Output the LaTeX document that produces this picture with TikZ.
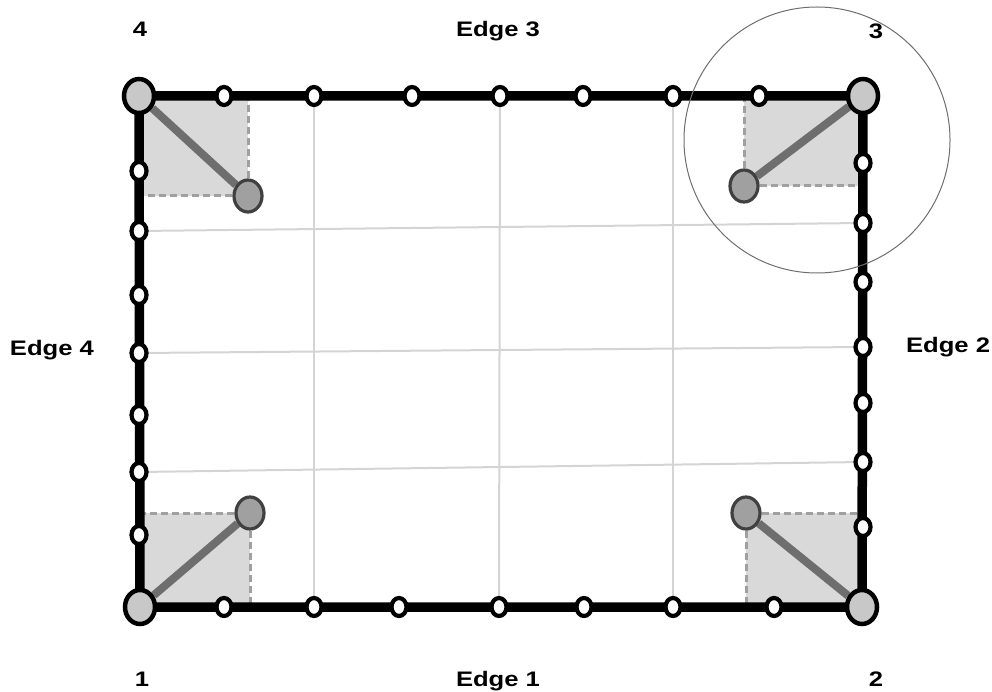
\documentclass[tikz,border=0pt]{standalone}
\usepackage{fontspec}
\newfontfamily\edgefont[FakeStretch=1.22]{Liberation Sans}
\usetikzlibrary{shapes.geometric,backgrounds}
\definecolor{cornerfill}{RGB}{200,200,200}
\definecolor{knobfill}{RGB}{160,160,160}
\definecolor{knobline}{RGB}{64,64,64}
\definecolor{armgray}{RGB}{110,110,110}
\definecolor{patchgray}{RGB}{217,217,217}
\definecolor{guidegray}{RGB}{160,160,160}
\definecolor{gridgray}{RGB}{212,212,212}
\definecolor{ringgray}{RGB}{110,110,110}

\tikzset{
  corner/.style={ellipse,draw=black,line width=4.5pt,fill=cornerfill,minimum width=30pt,minimum height=34pt,inner sep=0pt},
  bead/.style={ellipse,draw=black,line width=4.2pt,fill=white,minimum width=15pt,minimum height=18pt,inner sep=0pt},
  knob/.style={ellipse,draw=knobline,line width=3.2pt,fill=knobfill,minimum width=28pt,minimum height=32pt,inner sep=0pt},
  frame/.style={line width=9.5pt,line join=miter,black},
  gridline/.style={line width=2pt,gridgray},
  guide/.style={line width=3pt,guidegray,dash pattern=on 7pt off 4pt},
  arm/.style={line width=8pt,armgray},
  lbl/.style={font=\edgefont\bfseries\fontsize{21}{25}\selectfont,anchor=base,inner sep=0pt}
}

\begin{document}
\begin{tikzpicture}[x=1pt,y=-1pt]
  \useasboundingbox (0,0) rectangle (992,692);
  % corner joints
  \foreach \n/\x/\y in {1/140/607,2/862/607,3/863/96,4/139/96}
    \node[corner] (c\n) at (\x,\y) {};
  % beads along the edges
  \foreach \x [count=\i] in {224,314,399,499,584,673,774}
    \node[bead] (b1\i) at (\x,607) {};
  \foreach \y [count=\i] in {163,223,282,347,403,462,527}
    \node[bead] (b2\i) at (863,\y) {};
  \foreach \x [count=\i] in {224,314,412,500,583,673,759}
    \node[bead] (b3\i) at (\x,96) {};
  \foreach \y [count=\i] in {171,231,295,353,415,472,535}
    \node[bead] (b4\i) at (139,\y) {};
  % inner knobs
  \foreach \n/\x/\y in {1/250/513,2/746/513,3/744/186,4/248/196}
    \node[knob] (k\n) at (\x,\y) {};

  \begin{scope}[on background layer]
    \foreach \n in {1,...,4}
      \fill[patchgray] (c\n.center) rectangle (k\n.center);
    \foreach \i in {2,4,6}{
      \draw[gridline] (b3\i.center) -- (b1\i.center);
      \draw[gridline] (b4\i.center) -- (b2\i.center);
    }
    \foreach \n in {1,...,4}{
      \draw[guide] (k\n) -- (k\n |- c\n);
      \draw[guide] (k\n) -- (k\n -| c\n);
      \draw[arm] (c\n) -- (k\n);
    }
    \draw[frame] (c1.center) -- (c2.center) -- (c3.center) -- (c4.center) -- cycle;
  \end{scope}

  % magnifier ring
  \node[circle,draw=ringgray,line width=1pt,minimum size=266pt,inner sep=0pt] (lens) at (817,140) {};

  % labels
  \node[lbl] (n4) at (140,37) {4};
  \node[lbl] (e3) at (498,37) {Edge 3};
  \node[lbl] (n3) at (876,39) {3};
  \node[lbl] (e4) at (52,355) {Edge 4};
  \node[lbl] (e2) at (948,352) {Edge 2};
  \node[lbl] (n1) at (142,686) {1};
  \node[lbl] (e1) at (498,686) {Edge 1};
  \node[lbl] (n2) at (876,686) {2};
\end{tikzpicture}
\end{document}
